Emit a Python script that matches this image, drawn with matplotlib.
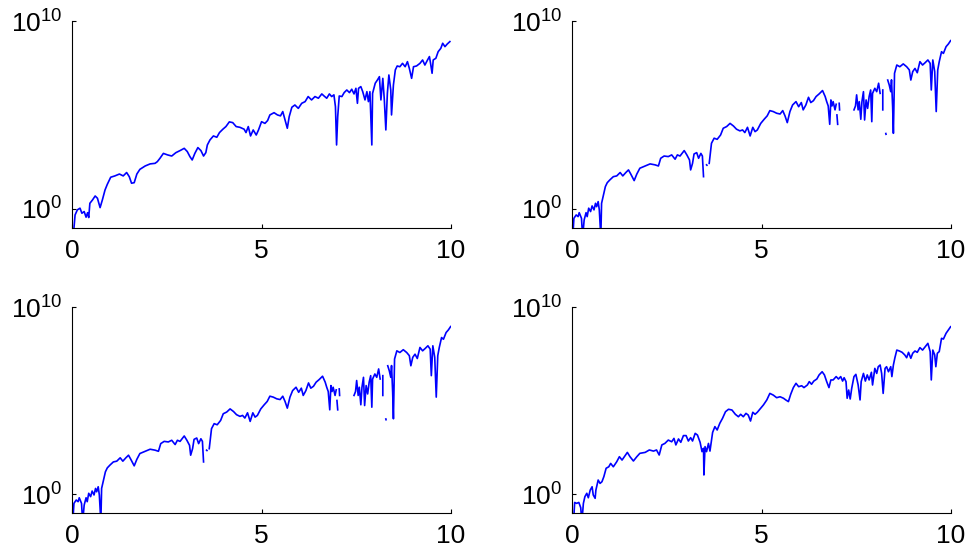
import numpy as np
import matplotlib
matplotlib.use("Agg")
import matplotlib.pyplot as plt
from matplotlib.ticker import NullLocator

plt.rcParams['font.family'] = ['Liberation Sans', 'DejaVu Sans']
plt.rcParams['mathtext.default'] = 'regular'

# values: x and log10(y); nan marks a break in the line
# top left
x_a = [0.03, 0.08, 0.14, 0.21, 0.26, 0.32, 0.37, 0.41, 0.44, 0.47, 0.54, 0.61, 0.67, 0.74, 0.80,
       0.87, 0.93, 1.02, 1.13, 1.25, 1.35, 1.44, 1.51, 1.57, 1.64, 1.71, 1.79, 1.93, 2.06, 2.19,
       2.25, 2.32, 2.41, 2.52, 2.63, 2.74, 2.85, 2.96, 3.04, 3.11, 3.17, 3.24, 3.32, 3.40, 3.47,
       3.53, 3.57, 3.64, 3.73, 3.82, 3.89, 3.98, 4.06, 4.15, 4.24, 4.33, 4.43, 4.54, 4.59, 4.65,
       4.71, 4.78, 4.86, 4.92, 5.00, 5.09, 5.16, 5.22, 5.33, 5.42, 5.50, 5.56, 5.62, 5.68, 5.73,
       5.80, 5.88, 5.97, 6.06, 6.15, 6.23, 6.32, 6.41, 6.50, 6.59, 6.65, 6.72, 6.79, 6.85, 6.91,
       6.95, 6.98, 7.01, 7.05, 7.12, 7.18, 7.25, 7.32, 7.38, 7.44, 7.49, 7.53, 7.56, 7.62, 7.67,
       7.73, 7.78, 7.82, 7.86, 7.91, 7.93, 8.00, 8.06, 8.11, 8.15, 8.20, 8.24, 8.28, 8.32, 8.36,
       8.41, 8.43, 8.48, 8.53, 8.58, 8.65, 8.72, 8.79, 8.85, 8.90, 8.96, 9.01, 9.09, 9.18, 9.25,
       9.31, 9.38, 9.43, 9.46, 9.50, 9.53, 9.60, 9.66, 9.73, 9.78, 9.84, 9.90, 9.97]
ly_a = [-1.5, -0.32, -0.05, 0.04, -0.23, -0.14, -0.44, -0.20, -0.46, 0.30, 0.48, 0.69, 0.57, 0.07, 0.48,
        1.01, 1.31, 1.69, 1.76, 1.86, 1.76, 1.94, 1.72, 1.37, 1.40, 1.86, 2.11, 2.29, 2.40, 2.43,
        2.52, 2.70, 2.96, 2.88, 2.82, 3.00, 3.11, 3.23, 3.06, 2.79, 2.61, 2.96, 3.27, 3.11, 2.82,
        3.00, 3.41, 3.68, 3.89, 3.82, 4.07, 4.25, 4.39, 4.64, 4.60, 4.39, 4.35, 4.25, 4.07, 4.39,
        3.89, 4.21, 3.94, 4.21, 4.65, 4.56, 4.71, 5.01, 5.13, 5.01, 4.96, 5.19, 4.74, 4.30, 4.92,
        5.42, 5.54, 5.36, 5.63, 5.72, 5.99, 5.81, 5.99, 5.90, 6.13, 6.02, 5.90, 6.13, 5.99, 6.08,
        5.45, 3.41, 4.92, 6.02, 5.99, 6.20, 6.34, 6.20, 6.38, 6.13, 6.43, 5.63, 6.43, 6.52, 6.25,
        5.81, 6.25, 5.72, 6.25, 3.41, 6.16, 6.70, 6.88, 7.05, 5.81, 6.96, 5.81, 4.21, 6.16, 7.14,
        6.34, 5.01, 6.61, 7.41, 7.62, 7.58, 7.76, 7.58, 7.85, 7.49, 6.96, 7.58, 7.62, 7.76, 7.94,
        7.67, 7.94, 8.12, 7.76, 7.23, 7.94, 8.03, 8.38, 8.56, 8.83, 8.65, 8.79, 8.92]

# top right and bottom left (same curve, with breaks)
x_b = [0.02, 0.05, 0.11, 0.16, 0.19, 0.25, 0.28, 0.32, 0.37, 0.40, 0.44, 0.49, 0.53, 0.58, 0.62,
       0.65, 0.69, 0.72, 0.76, 0.78, 0.83, 0.88, 0.93, 1.00, 1.09, 1.18, 1.27, 1.34, 1.42, 1.49,
       1.55, 1.64, 1.71, 1.79, 1.93, 2.06, 2.19, 2.28, 2.34, 2.43, 2.54, 2.63, 2.72, 2.78, 2.85,
       2.96, 3.03, 3.10, 3.13, 3.18, 3.22, 3.29, 3.34, 3.40, 3.44, 3.47, 3.51, 3.55, 3.56, 3.59,
       3.62, 3.68, 3.75, 3.83, 3.92, 3.99, 4.08, 4.17, 4.26, 4.34, 4.43, 4.50, 4.56, 4.63, 4.70,
       4.77, 4.83, 4.89, 4.98, 5.07, 5.15, 5.22, 5.31, 5.40, 5.49, 5.56, 5.62, 5.68, 5.75, 5.82,
       5.91, 5.98, 6.05, 6.10, 6.17, 6.24, 6.30, 6.37, 6.44, 6.52, 6.61, 6.68, 6.72, 6.76, 6.80,
       6.83, 6.86, 6.89, 6.94, 6.97, 6.98, 6.99, 7.01, 7.03, 7.05, 7.06, 7.20, 7.44, 7.48, 7.51,
       7.55, 7.58, 7.62, 7.65, 7.69, 7.72, 7.76, 7.80, 7.84, 7.88, 7.91, 7.93, 7.99, 8.04, 8.09,
       8.13, 8.16, 8.20, 8.20, 8.24, 8.28, 8.285, 8.31, 8.33, 8.37, 8.41, 8.43, 8.46, 8.48, 8.51,
       8.57, 8.65, 8.74, 8.83, 8.90, 8.94, 8.99, 9.05, 9.11, 9.18, 9.25, 9.32, 9.39, 9.45, 9.48,
       9.52, 9.57, 9.61, 9.65, 9.69, 9.75, 9.80, 9.87, 9.93, 9.99]
ly_b = [-1.5, -0.50, -0.32, -0.41, -0.20, -0.50, -1.5, -0.59, -0.20, -0.41, 0.04, -0.14, 0.16, -0.05, 0.30,
        0.12, 0.39, -0.05, -1.5, 0.30, 0.75, 1.19, 1.40, 1.55, 1.72, 1.76, 1.94, 1.76, 1.94, 2.08,
        1.86, 1.51, 1.86, 2.17, 2.29, 2.40, 2.35, 2.29, 2.70, 2.82, 2.79, 2.88, 2.65, 2.88, 2.82,
        3.11, 2.88, 2.61, 2.08, 2.43, 2.93, 3.00, 2.70, 2.96, 2.82, 1.72, np.nan, 2.35, 2.33, np.nan,
        2.43, 3.50, 3.77, 3.71, 3.94, 4.30, 4.39, 4.56, 4.42, 4.25, 4.16, 4.21, 4.07, 4.35, 3.89,
        4.35, 4.12, 4.21, 4.56, 4.78, 4.96, 5.24, 5.19, 5.10, 5.06, 5.24, 4.96, 4.60, 5.19, 5.54,
        5.72, 5.45, 5.67, 5.28, 5.54, 5.95, 5.67, 5.77, 5.99, 6.13, 6.31, 5.99, 5.72, 5.49, 4.51,
        5.81, 5.49, 5.72, 5.28, 5.58, np.nan, 5.01, 4.51, np.nan, 5.63, 5.28, np.nan, 5.28, 5.49, 6.08,
        5.28, 5.72, 4.78, 5.72, 6.25, 4.74, 5.81, 5.36, 5.99, 6.34, 4.65, 6.16, 6.43, 6.25, 6.70,
        6.16, np.nan, 6.34, 5.28, np.nan, 4.02, 3.98, np.nan, 6.87, 6.61, 6.25, 6.88, 5.45, 4.03, 7.23,
        7.67, 7.58, 7.73, 7.58, 7.41, 6.87, 7.32, 7.49, 7.26, 7.85, 7.67, 7.80, 7.94, 7.76, 6.34,
        7.94, 7.32, 5.19, 7.41, 7.85, 8.38, 8.29, 8.65, 8.79, 8.97]

# bottom right
x_d = [0.04, 0.07, 0.12, 0.18, 0.23, 0.26, 0.30, 0.34, 0.39, 0.43, 0.48, 0.53, 0.56, 0.61, 0.63,
       0.69, 0.74, 0.79, 0.84, 0.90, 0.97, 1.02, 1.09, 1.18, 1.25, 1.32, 1.40, 1.46, 1.53, 1.62,
       1.71, 1.79, 1.93, 2.04, 2.15, 2.23, 2.30, 2.37, 2.45, 2.54, 2.63, 2.69, 2.74, 2.81, 2.87,
       2.94, 3.01, 3.07, 3.13, 3.18, 3.25, 3.31, 3.38, 3.43, 3.47, 3.48, 3.51, 3.55, 3.60, 3.64,
       3.71, 3.77, 3.83, 3.90, 3.97, 4.05, 4.13, 4.22, 4.31, 4.39, 4.45, 4.52, 4.59, 4.65, 4.71,
       4.77, 4.83, 4.89, 4.96, 5.05, 5.14, 5.22, 5.31, 5.40, 5.49, 5.58, 5.64, 5.71, 5.77, 5.84,
       5.91, 5.98, 6.06, 6.12, 6.21, 6.26, 6.32, 6.38, 6.46, 6.52, 6.60, 6.66, 6.72, 6.78, 6.83,
       6.89, 6.97, 7.03, 7.09, 7.14, 7.18, 7.23, 7.26, 7.30, 7.34, 7.38, 7.44, 7.49, 7.55, 7.60,
       7.63, 7.69, 7.74, 7.79, 7.84, 7.90, 7.93, 7.99, 8.04, 8.08, 8.13, 8.17, 8.21, 8.26, 8.30,
       8.35, 8.41, 8.44, 8.48, 8.52, 8.57, 8.64, 8.71, 8.78, 8.83, 8.88, 8.94, 8.99, 9.05, 9.11,
       9.18, 9.25, 9.32, 9.39, 9.45, 9.48, 9.52, 9.57, 9.60, 9.64, 9.69, 9.75, 9.80, 9.87, 9.93,
       9.99]
ly_d = [-1.5, -0.45, -0.50, -0.45, -0.73, -1.5, -0.50, -0.14, 0.04, -0.20, 0.21, 0.39, -0.05, -0.23, 0.21,
        0.75, 0.57, 0.66, 0.93, 1.38, 1.46, 1.64, 1.46, 1.73, 2.00, 1.82, 2.05, 2.23, 2.00, 1.77,
        2.00, 2.18, 2.23, 2.36, 2.30, 2.36, 2.09, 2.63, 2.71, 2.89, 2.80, 2.98, 2.63, 2.95, 2.77,
        3.13, 3.13, 2.84, 3.02, 2.84, 3.25, 3.16, 2.77, 2.27, 2.45, 1.02, 2.54, 2.27, 2.71, 2.30,
        3.30, 3.61, 3.43, 3.79, 4.05, 4.41, 4.54, 4.50, 4.27, 4.14, 4.27, 4.14, 4.32, 4.23, 3.91,
        4.38, 4.27, 4.38, 4.55, 4.77, 5.04, 5.39, 5.30, 5.16, 5.21, 5.13, 5.04, 4.95, 5.34, 5.70,
        5.93, 5.75, 5.80, 5.70, 5.84, 6.02, 5.88, 6.05, 6.16, 6.38, 6.55, 6.38, 6.02, 5.70, 6.11,
        6.11, 6.29, 6.16, 6.29, 6.05, 6.23, 6.02, 5.13, 5.57, 5.09, 5.66, 6.29, 6.41, 5.84, 5.04,
        6.02, 6.46, 6.05, 6.38, 6.11, 6.52, 5.84, 6.73, 6.46, 6.82, 6.91, 6.46, 5.39, 6.73, 6.82,
        6.55, 6.82, 6.29, 6.91, 7.30, 7.71, 7.66, 7.59, 7.45, 7.30, 7.59, 7.27, 7.54, 7.66, 7.59,
        7.84, 7.71, 7.89, 8.07, 7.63, 6.11, 7.71, 7.45, 6.82, 7.54, 7.63, 8.34, 8.30, 8.61, 8.79,
        8.96]

panels = [(x_a, ly_a), (x_b, ly_b), (x_b, ly_b), (x_d, ly_d)]

fig = plt.figure(figsize=(9.71, 5.48), dpi=100)
positions = [[0.0742, 0.5845, 0.3903, 0.3766],
             [0.5891, 0.5845, 0.3903, 0.3766],
             [0.0742, 0.0644, 0.3903, 0.3748],
             [0.5891, 0.0644, 0.3903, 0.3748]]

for pos, (xs, lys) in zip(positions, panels):
    ax = fig.add_axes(pos)
    ax.plot(xs, 10.0 ** np.array(lys, dtype=float), color='#0000ff', lw=1.2)
    ax.set_yscale('log')
    ax.set_xlim(0, 10)
    ax.set_ylim(10 ** -1.0, 1e10)
    ax.set_xticks([0, 5, 10])
    ax.set_yticks([1, 1e10])
    ax.yaxis.set_minor_locator(NullLocator())
    ax.spines['top'].set_visible(False)
    ax.spines['right'].set_visible(False)
    ax.spines['left'].set_linewidth(0.8)
    ax.spines['bottom'].set_linewidth(0.8)
    ax.tick_params(direction='in', length=3, width=0.8, labelsize=19)
    ax.tick_params(axis='x', pad=8)
    ax.tick_params(axis='y', pad=7)

fig.savefig('out.png', dpi=100)
